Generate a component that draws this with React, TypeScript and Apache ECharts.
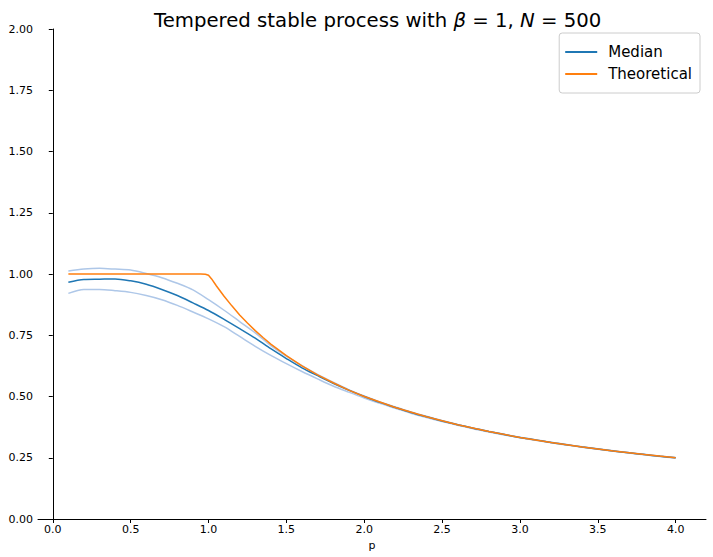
import React, { useEffect, useRef } from "react";
import * as echarts from "echarts";

const pValues = [
  0.1, 0.2, 0.3, 0.4, 0.5, 0.6, 0.7, 0.8, 0.9, 1.0,
  1.1, 1.2, 1.3, 1.4, 1.5, 1.6, 1.7, 1.8, 1.9, 2.0,
  2.1, 2.2, 2.3, 2.4, 2.5, 2.6, 2.7, 2.8, 2.9, 3.0,
  3.1, 3.2, 3.3, 3.4, 3.5, 3.6, 3.7, 3.8, 3.9, 4.0,
];

const medianValues = [
  0.966, 0.978, 0.979, 0.98, 0.972, 0.958, 0.937, 0.912, 0.882, 0.851,
  0.815, 0.777, 0.738, 0.695, 0.655, 0.617, 0.585, 0.554, 0.526, 0.5,
  0.476, 0.455, 0.435, 0.417, 0.4, 0.385, 0.37, 0.357, 0.345, 0.333,
  0.323, 0.312, 0.303, 0.294, 0.286, 0.278, 0.27, 0.263, 0.256, 0.25,
];

const upperValues = [
  1.012, 1.02, 1.023, 1.02, 1.016, 1.002, 0.985, 0.962, 0.935, 0.895,
  0.852, 0.806, 0.76, 0.708, 0.665, 0.626, 0.59, 0.558, 0.528, 0.502,
  0.478, 0.457, 0.437, 0.419, 0.402, 0.386, 0.371, 0.358, 0.346, 0.334,
  0.324, 0.313, 0.304, 0.295, 0.287, 0.279, 0.271, 0.264, 0.257, 0.251,
];

const lowerValues = [
  0.921, 0.937, 0.937, 0.932, 0.925, 0.912, 0.895, 0.872, 0.845, 0.817,
  0.785, 0.745, 0.705, 0.668, 0.634, 0.602, 0.572, 0.543, 0.518, 0.494,
  0.472, 0.452, 0.432, 0.414, 0.398, 0.383, 0.368, 0.355, 0.343, 0.332,
  0.321, 0.311, 0.302, 0.293, 0.285, 0.277, 0.269, 0.262, 0.255, 0.249,
];

const pTheory = [
  0.1, 0.5, 0.9, 0.95, 0.98, 1.0, 1.02, 1.05, 1.1, 1.15,
  1.2, 1.25, 1.3, 1.35, 1.4, 1.45, 1.5, 1.6, 1.7, 1.8,
  1.9, 2.0, 2.2, 2.4, 2.6, 2.8, 3.0, 3.2, 3.4, 3.6,
  3.8, 4.0,
];

const theoreticalValues = [
  1.0, 1.0, 1.0, 1.0, 0.999, 0.995, 0.98, 0.952, 0.909, 0.87,
  0.833, 0.8, 0.769, 0.741, 0.714, 0.69, 0.667, 0.625, 0.588, 0.556,
  0.526, 0.5, 0.455, 0.417, 0.385, 0.357, 0.333, 0.3125, 0.294, 0.278,
  0.263, 0.25,
];

const xTicks = [0, 0.5, 1.0, 1.5, 2.0, 2.5, 3.0, 3.5, 4.0];

const FONT = "DejaVu Sans";

const pair = (xs: number[], ys: number[]) => xs.map((p, i) => [p, ys[i]]);

export default function App() {
  const ref = useRef<HTMLDivElement>(null);

  useEffect(() => {
    if (!ref.current) return;
    const chart = echarts.init(ref.current, undefined, { renderer: "svg" });
    const lineBase = {
      type: "line" as const,
      showSymbol: false,
      symbol: "none",
      silent: true,
    };
    chart.setOption({
      animation: false,
      backgroundColor: "#ffffff",
      textStyle: { fontFamily: FONT },
      title: {
        text: "Tempered stable process with {i|β} = 1, {i|N} = 500",
        left: 149,
        top: 5,
        textStyle: {
          fontFamily: FONT,
          fontSize: 19.7,
          fontWeight: "normal",
          color: "#000",
          rich: {
            i: { fontFamily: FONT, fontSize: 19.7, fontStyle: "italic", color: "#000" },
          },
        },
      },
      legend: {
        data: ["Median", "Theoretical"],
        orient: "vertical",
        right: 13,
        top: 33,
        padding: [11, 8, 11, 6],
        itemGap: 6,
        icon: "rect",
        itemWidth: 32,
        itemHeight: 2,
        borderColor: "#cccccc",
        borderWidth: 1,
        borderRadius: 3,
        backgroundColor: "rgba(255,255,255,0.8)",
        textStyle: {
          fontFamily: FONT,
          fontSize: 15,
          lineHeight: 16,
          color: "#000",
          padding: [0, 0, 0, 6],
        },
      },
      grid: { left: 38, top: 29, width: 668, height: 490, containLabel: false },
      xAxis: {
        type: "value",
        min: -0.095,
        max: 4.195,
        name: "p",
        nameLocation: "middle",
        nameGap: 19,
        nameTextStyle: { fontFamily: FONT, fontSize: 11, color: "#000" },
        splitLine: { show: false },
        axisLine: { show: true, onZero: false, lineStyle: { color: "#000", width: 1 } },
        axisTick: { show: true, length: 4, lineStyle: { color: "#000" }, customValues: xTicks },
        axisLabel: {
          fontFamily: FONT,
          fontSize: 11,
          color: "#000",
          margin: 5,
          customValues: xTicks,
          formatter: (v: number) => v.toFixed(1),
        },
      },
      yAxis: {
        type: "value",
        min: 0,
        max: 2,
        interval: 0.25,
        splitLine: { show: false },
        axisLine: { show: true, lineStyle: { color: "#000", width: 1 } },
        axisTick: { show: true, length: 4, lineStyle: { color: "#000" } },
        axisLabel: {
          fontFamily: FONT,
          fontSize: 11,
          color: "#000",
          margin: 5,
          formatter: (v: number) => v.toFixed(2),
        },
      },
      series: [
        {
          ...lineBase,
          name: "Upper",
          smooth: 0.3,
          data: pair(pValues, upperValues),
          lineStyle: { color: "#aec7e8", width: 1.5 },
          itemStyle: { color: "#aec7e8" },
        },
        {
          ...lineBase,
          name: "Lower",
          smooth: 0.3,
          data: pair(pValues, lowerValues),
          lineStyle: { color: "#aec7e8", width: 1.5 },
          itemStyle: { color: "#aec7e8" },
        },
        {
          ...lineBase,
          name: "Median",
          smooth: 0.3,
          data: pair(pValues, medianValues),
          lineStyle: { color: "#1f77b4", width: 1.5 },
          itemStyle: { color: "#1f77b4" },
        },
        {
          ...lineBase,
          name: "Theoretical",
          smooth: false,
          data: pair(pTheory, theoreticalValues),
          lineStyle: { color: "#ff7f0e", width: 1.5 },
          itemStyle: { color: "#ff7f0e" },
        },
      ],
    });
    return () => chart.dispose();
  }, []);

  return (
    <div
      ref={ref}
      style={{ position: "absolute", left: 0, top: 0, width: 713, height: 557 }}
    />
  );
}
